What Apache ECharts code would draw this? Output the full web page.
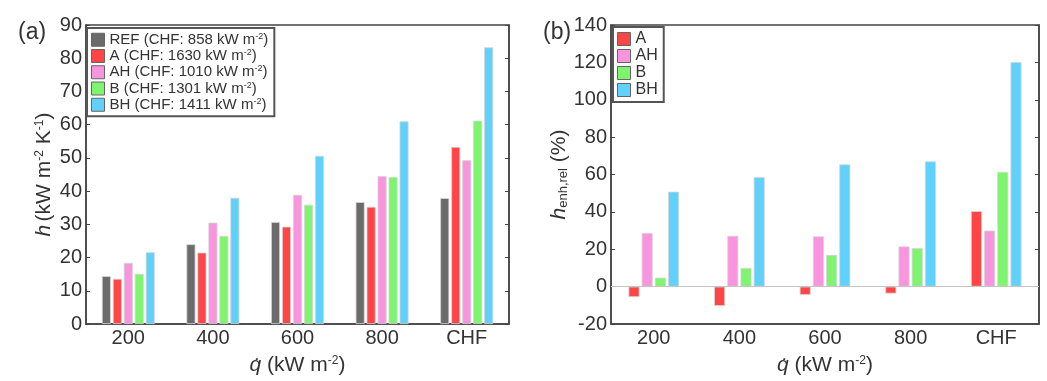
<!DOCTYPE html>
<html>
<head>
<meta charset="utf-8">
<script src="https://cdn.jsdelivr.net/npm/echarts@6/dist/echarts.min.js"></script>
<style>
  html, body { margin: 0; padding: 0; background: #fff; }
  #main { width: 1047px; height: 381px; }
</style>
</head>
<body>
<div id="main"></div>
<script>
// heat flux categories
const categories = ['200', '400', '600', '800', 'CHF'];

// (a) heat transfer coefficient, kW m-2 K-1
const hREF = [14.4, 24.0, 30.7, 36.7, 37.9];
const hA = [13.6, 21.5, 29.3, 35.3, 53.3];
const hAH = [18.4, 30.5, 38.9, 44.5, 49.3];
const hB = [15.1, 26.5, 35.9, 44.2, 61.2];
const hBH = [21.6, 38.0, 50.6, 61.0, 83.3];

// (b) relative enhancement, %
const enhA = [-5.6, -10.3, -4.4, -3.7, 40.4];
const enhAH = [28.7, 27.2, 26.9, 21.5, 30.0];
const enhB = [4.8, 10.0, 17.0, 20.6, 61.4];
const enhBH = [50.8, 58.6, 65.4, 67.0, 120.1];

// legend labels for (a)
const chfLabels = {
  REF: 'REF (CHF: 858 kW m',
  A: 'A (CHF: 1630 kW m',
  AH: 'AH (CHF: 1010 kW m',
  B: 'B (CHF: 1301 kW m',
  BH: 'BH (CHF: 1411 kW m'
};

const colors = {
  REF: '#6b6b6b',
  A: '#ff4545',
  AH: '#f994df',
  B: '#7ef46f',
  BH: '#5fd1fb'
};

const font = 'Liberation Sans, Arial, sans-serif';
const axisColor = '#444';
const textColor = '#333';

const supRich = {
  t: { fontSize: 21, fontFamily: font, color: textColor },
  i: { fontSize: 21, fontFamily: font, color: textColor, fontStyle: 'italic' },
  sup: { fontSize: 12, fontFamily: font, color: textColor, verticalAlign: 'top' },
  sub: { fontSize: 13, fontFamily: font, color: textColor, verticalAlign: 'bottom' }
};

function yAxes(gridIndex, min, max, interval, name, nameGap) {
  return [
    {
      gridIndex: gridIndex, type: 'value', min: min, max: max, interval: interval,
      name: name, nameLocation: 'middle', nameGap: nameGap, nameRotate: 90,
      nameTextStyle: { rich: supRich },
      axisLine: { show: true, lineStyle: { color: axisColor, width: 1.5 } },
      axisTick: { show: true, inside: true, length: 4, lineStyle: { color: axisColor } },
      axisLabel: { fontSize: 20, color: textColor, fontFamily: font, margin: 4 },
      splitLine: { show: false }
    },
    {
      gridIndex: gridIndex, type: 'value', min: min, max: max, interval: interval,
      position: 'right',
      axisLine: { show: true, lineStyle: { color: axisColor, width: 1.5 } },
      axisTick: { show: true, inside: true, length: 4, lineStyle: { color: axisColor } },
      axisLabel: { show: false },
      splitLine: { show: false }
    }
  ];
}

function xAxis(gridIndex) {
  return {
    gridIndex: gridIndex, type: 'category', data: categories,
    name: '{i|q̇}{t| (kW m}{sup|-2}{t|)}', nameLocation: 'middle', nameGap: 31,
    nameTextStyle: { rich: supRich },
    axisLine: { onZero: false, lineStyle: { color: axisColor, width: 1.5 } },
    axisTick: { show: false },
    axisLabel: { fontSize: 20, color: textColor, fontFamily: font, margin: 4 }
  };
}

function bars(name, data, idx, width, gap) {
  return {
    name: name, type: 'bar', data: data,
    xAxisIndex: idx, yAxisIndex: idx * 2,
    barWidth: width, barGap: gap,
    itemStyle: { color: colors[name], borderColor: '#d4d4d4', borderWidth: 0.8 }
  };
}

const legendBase = {
  orient: 'vertical',
  backgroundColor: '#fff',
  borderColor: '#555',
  borderWidth: 2,
  itemWidth: 13,
  itemHeight: 13,
  itemGap: 1,
  itemTextGap: 4,
  icon: 'rect',
  itemStyle: { borderColor: '#666', borderWidth: 1 },
  selectedMode: false
};

const legendRich = {
  t: { fontSize: 15, fontFamily: font, color: textColor, lineHeight: 15.5 },
  s: { fontSize: 9, fontFamily: font, color: textColor, verticalAlign: 'top', lineHeight: 15.5 }
};

const chart = echarts.init(document.getElementById('main'));

chart.setOption({
  animation: false,
  backgroundColor: '#fff',
  title: [
    { text: '(a)', left: 13, top: 16, textStyle: { fontSize: 23, fontWeight: 'normal', color: textColor, fontFamily: font } },
    { text: '(b)', left: 538, top: 16, textStyle: { fontSize: 23, fontWeight: 'normal', color: textColor, fontFamily: font } }
  ],
  grid: [
    { left: 86, top: 25, width: 423, height: 307, show: true, borderColor: axisColor, borderWidth: 1.5 },
    { left: 611, top: 25, width: 428, height: 307, show: true, borderColor: axisColor, borderWidth: 1.5 }
  ],
  legend: [
    Object.assign({}, legendBase, {
      left: 87, top: 28, padding: [4, 6, 4, 4],
      data: ['REF', 'A', 'AH', 'B', 'BH'],
      formatter: function (n) { return '{t|' + chfLabels[n] + '}{s|-2}{t|)}'; },
      textStyle: { rich: legendRich }
    }),
    Object.assign({}, legendBase, {
      left: 613, top: 27, padding: [4, 6, 4, 4],
      data: ['A', 'AH', 'B', 'BH'],
      formatter: function (n) { return '{t|' + n + '}'; },
      textStyle: { rich: Object.assign({}, legendRich, { t: Object.assign({}, legendRich.t, { fontSize: 16 }) }) }
    })
  ],
  xAxis: [xAxis(0), xAxis(1)],
  yAxis: yAxes(0, 0, 90, 10, '{i|h} {t|(kW m}{sup|-2}{t| K}{sup|-1}{t|)}', 31)
    .concat(yAxes(1, -20, 140, 20, '{i|h}{sub|enh,rel}{t| (%)}', 34)),
  series: [
    bars('REF', hREF, 0, 9, '22%'),
    bars('A', hA, 0, 9, '22%'),
    bars('AH', hAH, 0, 9, '22%'),
    bars('B', hB, 0, 9, '22%'),
    bars('BH', hBH, 0, 9, '22%'),
    Object.assign(bars('A', enhA, 1, 11, '20%'), {
      markLine: {
        silent: true, symbol: 'none', label: { show: false },
        lineStyle: { color: '#c4c4c4', width: 1, type: 'solid' },
        data: [{ yAxis: 0 }]
      }
    }),
    bars('AH', enhAH, 1, 11, '20%'),
    bars('B', enhB, 1, 11, '20%'),
    bars('BH', enhBH, 1, 11, '20%')
  ]
});
</script>
</body>
</html>
